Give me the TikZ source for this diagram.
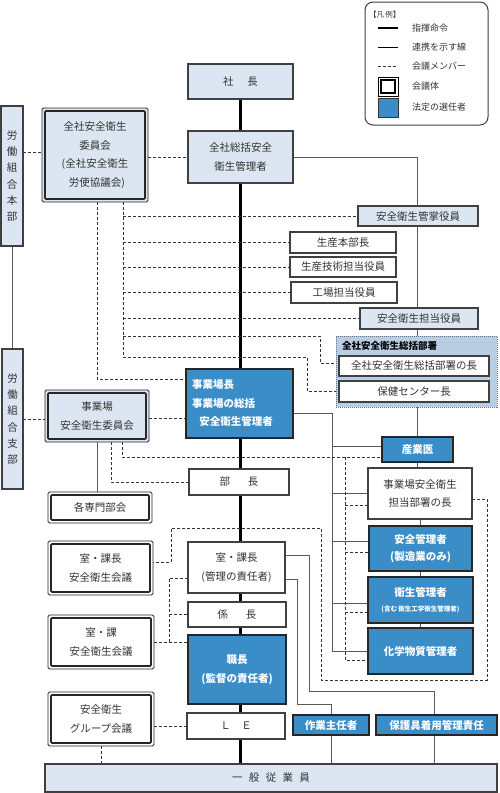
\documentclass[tikz,border=0pt]{standalone}
\usepackage{fontspec}
\setmainfont{Noto Sans CJK JP}
\usetikzlibrary{backgrounds,calc}
\definecolor{lb}{RGB}{220,230,242}
\definecolor{bl}{RGB}{59,141,200}
\definecolor{gp}{RGB}{185,205,229}
\definecolor{bd}{RGB}{64,64,64}
\definecolor{ln}{RGB}{90,90,90}
\definecolor{tx}{RGB}{50,50,50}
\tikzset{
 bx0/.style={inner sep=0pt, outer sep=0pt, align=center, text=tx, font=\fontsize{10.5}{18.5}\selectfont},
 wbox/.style={bx0, draw=bd, line width=1.1pt, fill=white},
 lbox/.style={wbox, fill=lb},
 bbox/.style={bx0, draw=black!85, line width=1.6pt, fill=bl, text=white, font=\fontsize{10.5}{18.5}\selectfont\bfseries},
 dbox/.style={bx0, draw=black!85, line width=0.9pt, fill=white, rounded corners=1.5pt},
 grpbox/.style={bx0, draw=black!55, densely dotted, line width=1pt, fill=gp},
 vtext/.style={font=\fontsize{10.5}{16.2}\selectfont},
 stCmd/.style={line width=2.3pt, draw=black},
 stRel/.style={line width=0.9pt, draw=ln},
 stMem/.style={line width=0.9pt, draw=black!80, dash pattern=on 3pt off 2pt},
 legtxt/.style={bx0, anchor=west, font=\fontsize{9}{10}\selectfont},
}
\newcommand\mkbox[7]{\node[#6, minimum width={(#4-#2)*1pt}, minimum height={(#5-#3)*1pt}] (#1) at ({(#2+#4)/2},{(#3+#5)/2}) {#7};}
\newcommand\dinner[1]{\draw[line width=1.7pt, draw=black!85, rounded corners=1pt] ([shift={(3pt,3pt)}]#1.south west) rectangle ([shift={(-3pt,-3pt)}]#1.north east);}
\begin{document}
\begin{tikzpicture}[x=1pt,y=-1pt]
\useasboundingbox (0,0) rectangle (500,793);
% legend
\mkbox{legend}{365}{2}{488}{125}{wbox, rounded corners=8pt, line width=1pt}{}
\node[legtxt, font=\fontsize{7.5}{9}\selectfont] (lgtitle) at (369,15) {【凡\hspace{0.2em}例】};
\draw[stCmd] (378,28) -- (398,28);
\draw[stRel, draw=black] (378,47) -- (398,47);
\draw[stMem] (378,66) -- (398,66);
\draw[line width=0.9pt, draw=black] (378,77) rectangle (398,96);
\draw[line width=1.6pt, draw=black] (381,80) rectangle (395,93);
\draw[fill=bl, draw=black!80, line width=0.8pt] (378,98) rectangle (398,117);
\node[legtxt] (lg1) at (412,28) {指揮命令};
\node[legtxt] (lg2) at (412,47) {連携を示す線};
\node[legtxt] (lg3) at (412,66) {会議メンバー};
\node[legtxt] (lg4) at (412,86) {会議体};
\node[legtxt] (lg5) at (412,107) {法定の選任者};
% main nodes
\mkbox{shacho}{188}{64}{293}{99}{lbox}{社\hspace{1.3em}長}
\mkbox{soukatsu}{188}{131}{293}{183}{lbox}{全社総括安全\\衛生管理者}
\mkbox{zeniin}{42}{108}{148}{202}{dbox,fill=lb}{全社安全衛生\\委員会\\(全社安全衛生\\\hphantom{(}労使協議会)}
\dinner{zeniin}
\mkbox{kansho}{358}{206}{478}{226}{lbox}{安全衛生管掌役員}
\mkbox{seisan}{290}{232}{396}{253}{wbox}{生産本部長}
\mkbox{gijutsu}{290}{257}{396}{277}{wbox}{生産技術担当役員}
\mkbox{koujou}{291}{282}{397}{303}{wbox}{工場担当役員}
\mkbox{tantou}{360}{308}{478}{329}{lbox}{安全衛生担当役員}
\mkbox{group}{336}{336}{497}{407}{grpbox}{}
\node[bx0, anchor=west, text=black, font=\fontsize{9.5}{11}\selectfont\bfseries] (grouptitle) at (342,346) {全社安全衛生総括部署};
\mkbox{souchou}{339}{356}{489}{376}{wbox}{全社安全衛生総括部署の長}
\mkbox{hoken}{339}{381}{489}{402}{wbox}{保健センター長}
\mkbox{jigyoujo}{186}{369}{293}{438}{bbox,line width=2.2pt,align=left,text width=95pt}{事業場長\\事業場の総括\\\hspace{0.7em}安全衛生管理者}
\mkbox{jiin}{45}{390}{149}{442}{dbox,fill=lb}{事業場\\安全衛生委員会}
\dinner{jiin}
\mkbox{honbu}{1}{106}{23}{246}{lbox,vtext}{労\\働\\組\\合\\本\\部}
\mkbox{shibu}{2}{349}{23}{489}{lbox,vtext}{労\\働\\組\\合\\支\\部}
\mkbox{senmon}{48}{492}{152}{523}{dbox}{各専門部会}
\dinner{senmon}
\mkbox{sangyoi}{382}{437}{453}{462}{bbox}{産業医}
\mkbox{bucho}{189}{469}{289}{495}{wbox}{部\hspace{1.7em}長}
\mkbox{tantoubusho}{368}{468}{472}{519}{wbox}{事業場安全衛生\\担当部署の長}
\mkbox{anzen}{369}{526}{472}{571}{bbox,font=\fontsize{10.5}{17}\selectfont\bfseries}{安全管理者\\(製造業のみ)}
\mkbox{kachou}{188}{542}{285}{593}{wbox}{室・課長\\(管理の責任者)}
\mkbox{kakari}{188}{602}{286}{627}{wbox}{係\hspace{1.7em}長}
\mkbox{shokucho}{188}{635}{286}{704}{bbox}{職長\\(監督の責任者)}
\mkbox{le}{187}{713}{285}{739}{wbox}{Ｌ\hspace{1em}Ｅ}
\mkbox{eisei}{368}{577}{473}{623}{bbox,font=\fontsize{10.5}{15}\selectfont\bfseries}{衛生管理者\\{\fontsize{6.5}{8}\selectfont (含む 衛生工学衛生管理者)}}
\mkbox{kagaku}{368}{628}{473}{674}{bbox}{化学物質管理者}
\mkbox{kakaigi}{48}{541}{153}{595}{dbox}{室・課長\\安全衛生会議}
\dinner{kakaigi}
\mkbox{kakai2}{48}{615}{154}{669}{dbox}{室・課\\安全衛生会議}
\dinner{kakai2}
\mkbox{grpk}{48}{692}{154}{746}{dbox}{安全衛生\\グループ会議}
\dinner{grpk}
\mkbox{sagyou}{293}{715}{369}{735}{bbox}{作業主任者}
\mkbox{hogo}{376}{715}{497}{735}{bbox}{保護具着用管理責任}
\mkbox{ippan}{45}{764}{497}{792}{lbox}{一\hspace{0.6em}般\hspace{0.6em}従\hspace{0.6em}業\hspace{0.6em}員}
% connectors
\begin{scope}[on background layer]
\fill[white] (0,0) rectangle (500,793);
% command spine
\draw[stCmd] (shacho.south) -- (shacho.south |- ippan.north);
% relation lines (right)
\draw[stRel] (soukatsu.east) -| ([xshift=-0.5pt]sangyoi.north);
\draw[stRel] (sangyoi.south) -- (sangyoi.south |- tantoubusho.north);
\draw[stRel] (tantoubusho.south) -- (tantoubusho.south |- anzen.north);
\draw[stRel] (anzen.south) -- (anzen.south |- eisei.north);
\draw[stRel] (eisei.south) -- (eisei.south |- kagaku.north);
\coordinate (sgW1) at ([yshift=3.5pt]sangyoi.west);
\coordinate (sgW2) at ([yshift=-7.5pt]sangyoi.west);
\coordinate (azW1) at ([yshift=7.5pt]anzen.west);
\coordinate (azW2) at ([yshift=-3.5pt]anzen.west);
\coordinate (esW1) at ([yshift=-3pt]eisei.west);
\coordinate (esW2) at ([yshift=-12pt]eisei.west);
\coordinate (kgW2) at ([yshift=-9pt]kagaku.west);
\coordinate (tbW2) at ([yshift=-11.5pt]tantoubusho.west);
\coordinate (tbE) at ([yshift=-5.5pt]tantoubusho.east);
\coordinate (rbus) at (332,413);
\draw[stRel] (jigyoujo.east |- rbus) -- (rbus) |- (kagaku.west);
\draw[stRel] (rbus |- sgW1) -- (sgW1);
\draw[stRel] (rbus |- tantoubusho.west) -- (tantoubusho.west);
\draw[stRel] (rbus |- azW1) -- (azW1);
\draw[stRel] (rbus |- esW1) -- (esW1);
% dashed member bus
\coordinate (dbus) at (345,457);
\draw[stMem] ([xshift=25pt]jiin.south) |- (sgW2);
\draw[stMem] (dbus) |- (kgW2);
\draw[stMem] (dbus |- tbW2) -- (tbW2);
\draw[stMem] (dbus |- azW2) -- (azW2);
\draw[stMem] (dbus |- esW2) -- (esW2);
\draw[stMem] ([xshift=14pt]jiin.south) |- (bucho.west);
\draw[stRel] (jiin.south) -- (jiin.south |- senmon.north);
% company committee
\coordinate (jgW) at ([yshift=24.5pt]jigyoujo.west);
\draw[stMem] ([xshift=2pt]zeniin.south) |- (jgW);
\coordinate (zb) at ([xshift=28pt]zeniin.south);
\coordinate (zbEnd) at (123,357);
\draw[stMem] (zb) -- (zbEnd);
\draw[stMem] (zb |- kansho.west) -- (kansho.west);
\draw[stMem] (zb |- seisan.west) -- (seisan.west);
\draw[stMem] (zb |- gijutsu.west) -- (gijutsu.west);
\draw[stMem] (zb |- koujou.west) -- (koujou.west);
\draw[stMem] (zb |- tantou.west) -- (tantou.west);
\coordinate (sc) at ([yshift=3pt]souchou.west);
\coordinate (zk1) at (320,336);
\draw[stMem] (zb |- zk1) -- (zk1) |- (sc);
\coordinate (zk2) at (307,357);
\draw[stMem] (zbEnd) -- (zk2) |- (hoken.west);
\coordinate (zW) at ([yshift=3pt]zeniin.west);
\draw[stMem] (honbu.east |- zW) -- (zW);
\draw[stMem] (zeniin.east |- soukatsu.west) -- (soukatsu.west);
\draw[stRel] (honbu.south) -- (honbu.south |- shibu.north);
\coordinate (jiW) at ([yshift=-3pt]jiin.west);
\draw[stMem] (shibu.east |- jiW) -- (jiW);
\coordinate (jiE) at ([yshift=-2pt]jiin.east);
\draw[stMem] (jiE) -- (jiE -| jigyoujo.west);
% right dashed loop
\coordinate (lp1) at (487,680);
\coordinate (lp2) at (321,528);
\coordinate (lp3) at (171,562);
\draw[stMem] (tbE) -| (lp1) -| (lp2) -| (lp3) -- (lp3 -| kakaigi.east);
% section dashed
\coordinate (ks) at (169,578);
\draw[stMem] (ks -| kachou.west) -- (ks) |- (kakai2.east);
\draw[stMem] (ks |- kakai2.east) -- (kakai2.east -| shokucho.west);
\draw[stMem] (ks |- kakari.west) -- (kakari.west);
\draw[stMem] (grpk.east |- le.west) -- (le.west);
\draw[stMem] (grpk.south) -- (grpk.south |- ippan.north);
% section solid
\coordinate (kcA) at ([yshift=12.5pt]kachou.east);
\coordinate (kcB) at ([yshift=-11.5pt]kachou.east);
\coordinate (w1) at (309,691);
\coordinate (w2) at (297,704);
\draw[stRel] (kcA) -| (w1) -| ([xshift=-2.5pt]hogo.north);
\draw[stRel] (kcB) -| (w2) -| (sagyou.north);
\draw[stRel] (sagyou.south) -- (sagyou.south |- ippan.north);
\coordinate (hgS) at ([xshift=-2.5pt]hogo.south);
\draw[stRel] (hgS) -- (hgS |- ippan.north);
\end{scope}
\end{tikzpicture}
\end{document}
